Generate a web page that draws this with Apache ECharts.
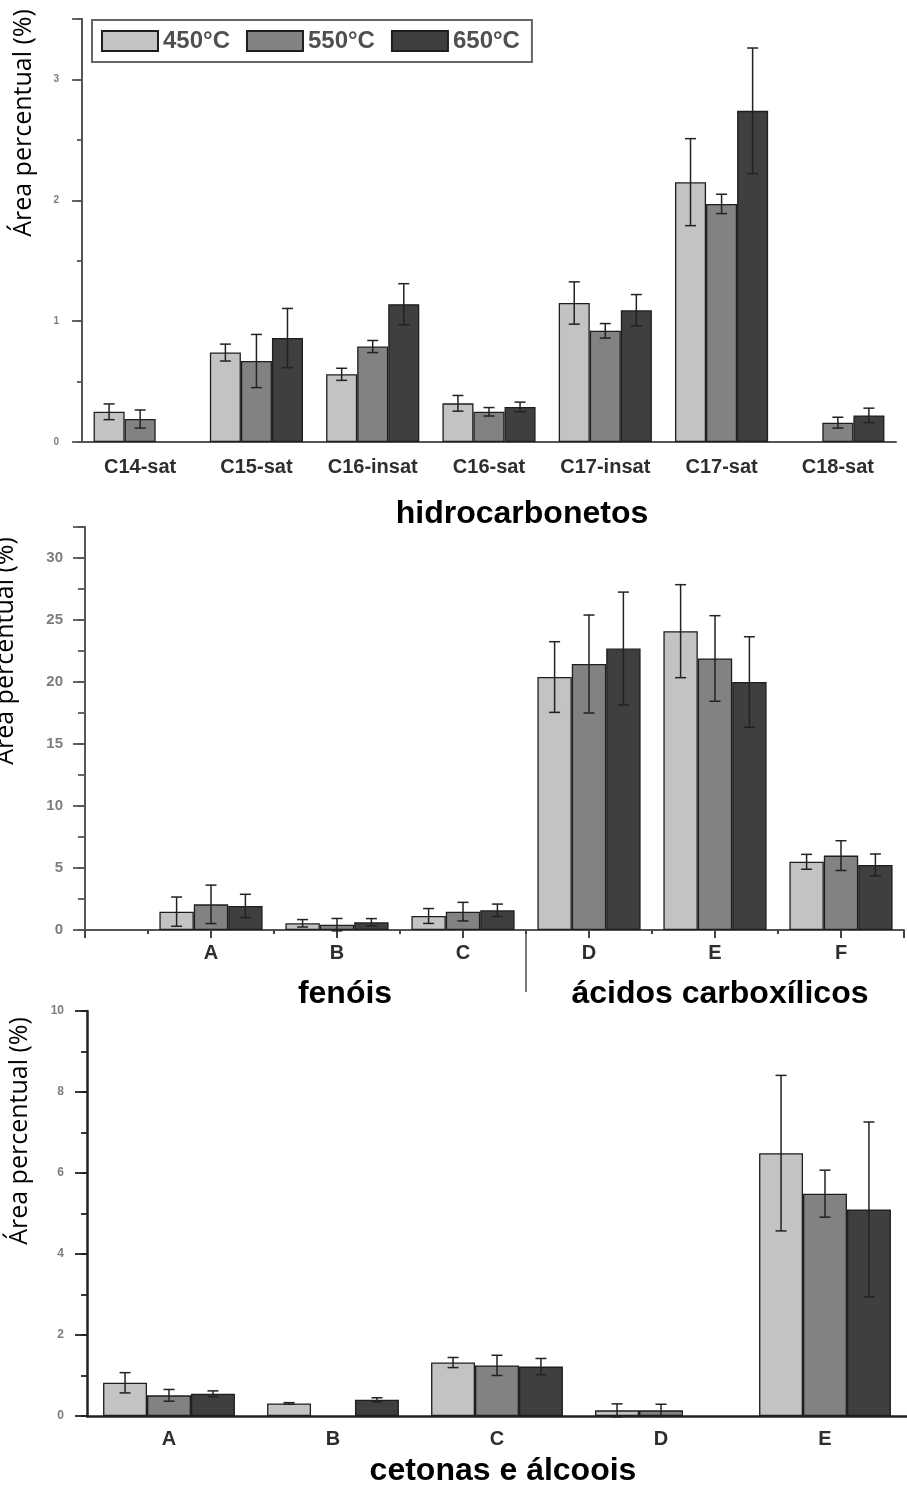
<!DOCTYPE html>
<html>
<head>
<meta charset="utf-8">
<script src="https://cdn.jsdelivr.net/npm/echarts@6/dist/echarts.min.js"></script>
<style>
  html, body { margin: 0; padding: 0; background: #ffffff; }
  #chart { width: 907px; height: 1490px; }
</style>
</head>
<body>
<div id="chart"></div>
<script>
// Pyrolysis temperatures (one bar series per temperature)
const temps = ['450°C', '550°C', '650°C'];
const tempColors = ['#c3c3c3', '#828282', '#3f3f3f'];

// Panel 1 — hidrocarbonetos
const hcCategories = ['C14-sat', 'C15-sat', 'C16-insat', 'C16-sat', 'C17-insat', 'C17-sat', 'C18-sat'];
const hc450 = [0.25, 0.74, 0.56, 0.32, 1.15, 2.15, null];
const hc550 = [0.19, 0.67, 0.79, 0.25, 0.92, 1.97, 0.16];
const hc650 = [null, 0.86, 1.14, 0.29, 1.09, 2.74, 0.22];
const hcErr450 = [0.065, 0.07, 0.05, 0.065, 0.175, 0.36, null];
const hcErr550 = [0.075, 0.22, 0.05, 0.035, 0.06, 0.08, 0.045];
const hcErr650 = [null, 0.245, 0.17, 0.04, 0.13, 0.52, 0.06];

// Panel 2 — fenóis (A–C) and ácidos carboxílicos (D–F)
const acCategories = ['A', 'B', 'C', 'D', 'E', 'F'];
const ac450 = [1.48, 0.54, 1.13, 20.4, 24.1, 5.5];
const ac550 = [2.07, 0.43, 1.48, 21.45, 21.9, 6.0];
const ac650 = [1.94, 0.62, 1.59, 22.7, 20.0, 5.25];
const acErr450 = [1.18, 0.3, 0.6, 2.85, 3.75, 0.6];
const acErr550 = [1.55, 0.5, 0.75, 3.95, 3.45, 1.2];
const acErr650 = [0.94, 0.3, 0.5, 4.55, 3.65, 0.88];

// Panel 3 — cetonas e álcoois
const kaCategories = ['A', 'B', 'C', 'D', 'E'];
const ka450 = [0.82, 0.31, 1.32, 0.14, 6.49];
const ka550 = [0.51, null, 1.25, 0.14, 5.49];
const ka650 = [0.55, 0.40, 1.22, null, 5.10];
const kaErr450 = [0.25, 0.02, 0.125, 0.16, 1.92];
const kaErr550 = [0.145, null, 0.25, 0.15, 0.58];
const kaErr650 = [0.07, 0.05, 0.2, null, 2.16];

// Y tick values
const hcTickStep = 1, hcMinorStep = 0.5, hcMax = 3.5;
const acTickStep = 5, acMinorStep = 2.5, acMax = 32.5;
const kaTickStep = 2, kaMinorStep = 1, kaMax = 10;

const yTitle = 'Área percentual (%)';

const chart = echarts.init(document.getElementById('chart'), null, { renderer: 'canvas' });

const BAR_BORDER = '#1e1e1e';
const ERR_COLOR = '#222222';

// Error bar drawn around the bar in slot k (0,1,2) of its category
function errorBar(slot, widthRatio) {
  return function (params, api) {
    const x = api.value(0), y = api.value(1), e = api.value(2);
    const band = api.size([1, 0])[0];
    const dx = band * widthRatio * (slot - 1);
    const top = api.coord([x, y + e]);
    const bot = api.coord([x, y - e]);
    const cx = top[0] + dx;
    const cap = 5.5;
    const style = { stroke: ERR_COLOR, lineWidth: 1.5 };
    return {
      type: 'group',
      children: [
        { type: 'line', shape: { x1: cx, y1: top[1], x2: cx, y2: bot[1] }, style: style },
        { type: 'line', shape: { x1: cx - cap, y1: top[1], x2: cx + cap, y2: top[1] }, style: style },
        { type: 'line', shape: { x1: cx - cap, y1: bot[1], x2: cx + cap, y2: bot[1] }, style: style }
      ]
    };
  };
}

// Build bar + error-bar series for one panel
function panelSeries(values, errors, xIndex, yIndex, widthRatio, xOf) {
  const out = [];
  values.forEach(function (vals, k) {
    out.push({
      type: 'bar',
      name: temps[k],
      xAxisIndex: xIndex,
      yAxisIndex: yIndex,
      barWidth: (widthRatio * 100) + '%',
      barGap: '0%',
      itemStyle: { color: tempColors[k], borderColor: BAR_BORDER, borderWidth: 1.3 },
      data: vals.map(function (v, i) { return xOf ? [xOf(i), v] : (v == null ? '-' : v); }),
      z: 2
    });
  });
  values.forEach(function (vals, k) {
    const data = [];
    vals.forEach(function (v, i) {
      const e = errors[k][i];
      if (v != null && e != null) data.push([xOf ? xOf(i) : i, v, e]);
    });
    out.push({
      type: 'custom',
      xAxisIndex: xIndex,
      yAxisIndex: yIndex,
      renderItem: errorBar(k, widthRatio),
      data: data,
      z: 5,
      silent: true
    });
  });
  return out;
}

const axisGray = '#555555';
const tickLabelGray = '#7d7d7d';
const catLabel = { fontFamily: 'Liberation Sans', fontWeight: 'bold', fontSize: 20, color: '#2e2e2e' };

function majorY(grid, max, step, tickLen, font, color, width, labelMargin) {
  return {
    type: 'value', gridIndex: grid, position: 'left', min: 0, max: max, interval: step,
    axisLine: { show: true, lineStyle: { color: color, width: width } },
    axisTick: { show: true, length: tickLen, lineStyle: { color: color, width: 1.8 } },
    axisLabel: {
      margin: labelMargin, fontFamily: 'Liberation Sans', fontWeight: 'bold', fontSize: font, color: tickLabelGray,
      formatter: function (v) { return (Math.abs(v / step - Math.round(v / step)) < 1e-9) ? String(v) : ''; }
    },
    splitLine: { show: false }
  };
}
function minorY(grid, max, step, tickLen, color) {
  return {
    type: 'value', gridIndex: grid, position: 'left', min: 0, max: max, interval: step,
    axisLine: { show: false },
    axisTick: { show: true, length: tickLen, lineStyle: { color: color, width: 1.8 } },
    axisLabel: { show: false },
    splitLine: { show: false }
  };
}

const option = {
  animation: false,
  backgroundColor: '#ffffff',
  legend: {
    data: temps,
    left: 92,
    top: 20,
    orient: 'horizontal',
    icon: 'rect',
    itemWidth: 56,
    itemHeight: 20,
    itemGap: 16,
    padding: [9, 12, 9, 9],
    borderColor: '#666666',
    borderWidth: 2,
    backgroundColor: '#ffffff',
    selectedMode: false,
    textStyle: { fontFamily: 'Liberation Sans', fontWeight: 'bold', fontSize: 24, color: '#505050', lineHeight: 24 }
  },
  grid: [
    { left: 82, right: 11, top: 19, bottom: 1048 },
    { left: 85, right: 0, top: 527, bottom: 560 },
    { left: 87, right: 0, top: 1011, bottom: 74 }
  ],
  xAxis: [
    // panel 1: labels + centre ticks
    {
      type: 'category', gridIndex: 0, position: 'bottom', data: hcCategories, boundaryGap: true,
      axisLine: { lineStyle: { color: axisGray, width: 2 } },
      axisTick: { alignWithLabel: true, length: 7, lineStyle: { color: '#444', width: 2 } },
      axisLabel: Object.assign({ margin: 15, interval: 0, hideOverlap: false }, catLabel)
    },
    // panel 1: category boundary ticks
    {
      type: 'category', gridIndex: 0, position: 'bottom', data: hcCategories, boundaryGap: true,
      axisLine: { show: false },
      axisTick: { alignWithLabel: false, length: 3, lineStyle: { color: '#444', width: 2 } },
      axisLabel: { show: false }
    },
    // panel 2: value axis, categories at 1..6 (labels + centre ticks)
    {
      type: 'value', gridIndex: 1, position: 'bottom', min: 0, max: 6.5, interval: 1,
      axisLine: { show: true, onZero: false, lineStyle: { color: axisGray, width: 2 } },
      axisTick: { show: true, length: 8, lineStyle: { color: '#444', width: 2 } },
      axisLabel: Object.assign({
        margin: 13,
        formatter: function (v) { return acCategories[v - 1] || ''; }
      }, catLabel),
      splitLine: { show: false }
    },
    // panel 3: labels + centre ticks
    {
      type: 'category', gridIndex: 2, position: 'bottom', data: kaCategories, boundaryGap: true,
      axisLine: { lineStyle: { color: '#222', width: 2.5 } },
      axisTick: { alignWithLabel: true, length: 8, lineStyle: { color: '#222', width: 2.2 } },
      axisLabel: Object.assign({ margin: 13, interval: 0 }, catLabel)
    },
    // panel 3: category boundary ticks
    {
      type: 'category', gridIndex: 2, position: 'bottom', data: kaCategories, boundaryGap: true,
      axisLine: { show: false },
      axisTick: { alignWithLabel: false, length: 4, lineStyle: { color: '#222', width: 2.2 } },
      axisLabel: { show: false }
    },
    // panel 2: half-step boundary ticks
    {
      type: 'value', gridIndex: 1, position: 'bottom', min: 0, max: 6.5, interval: 0.5,
      axisLine: { show: false, onZero: false },
      axisTick: { show: true, length: 4, lineStyle: { color: '#444', width: 2 } },
      axisLabel: { show: false },
      splitLine: { show: false }
    }
  ],
  yAxis: [
    majorY(0, hcMax, hcTickStep, 10, 10, axisGray, 2, 23),
    minorY(0, hcMax, hcMinorStep, 5, axisGray),
    majorY(1, acMax, acTickStep, 12, 15, axisGray, 2, 22),
    minorY(1, acMax, acMinorStep, 7, axisGray),
    majorY(2, kaMax, kaTickStep, 12, 12, '#222', 2.5, 23),
    minorY(2, kaMax, kaMinorStep, 6, '#222')
  ],
  series: []
    .concat(panelSeries([hc450, hc550, hc650], [hcErr450, hcErr550, hcErr650], 0, 0, 0.267, null))
    .concat(panelSeries([ac450, ac550, ac650], [acErr450, acErr550, acErr650], 2, 2, 0.273, function (i) { return i + 1; }))
    .concat(panelSeries([ka450, ka550, ka650], [kaErr450, kaErr550, kaErr650], 3, 4, 0.268, null))
};

chart.setOption(option);

// Group captions, vertical divider and axis titles
const dividerX = chart.convertToPixel({ xAxisIndex: 2 }, 3.5);
const panel2Base = chart.convertToPixel({ yAxisIndex: 2 }, 0);
const groupFont = 'bold 32px "Liberation Sans"';
const titleFont = '25px "Open Sans"';

function caption(text, x, y, font) {
  return { type: 'text', x: x, y: y, silent: true,
    style: { text: text, font: font, fill: '#000000', align: 'center', verticalAlign: 'middle' } };
}
function yTitleAt(x, y) {
  return { type: 'text', x: x, y: y, rotation: Math.PI / 2, silent: true,
    style: { text: yTitle, font: titleFont, fill: '#000000', align: 'center', verticalAlign: 'middle' } };
}

chart.setOption({
  graphic: [
    caption('hidrocarbonetos', 522, 514, groupFont),
    caption('fenóis', 345, 994, groupFont),
    caption('ácidos carboxílicos', 720, 994, groupFont),
    caption('cetonas e álcoois', 503, 1471, groupFont),
    { type: 'line', silent: true,
      shape: { x1: dividerX, y1: panel2Base, x2: dividerX, y2: panel2Base + 62 },
      style: { stroke: '#777777', lineWidth: 2 } },
    yTitleAt(24, 123),
    yTitleAt(6, 651),
    yTitleAt(20, 1131)
  ]
});
</script>
</body>
</html>
